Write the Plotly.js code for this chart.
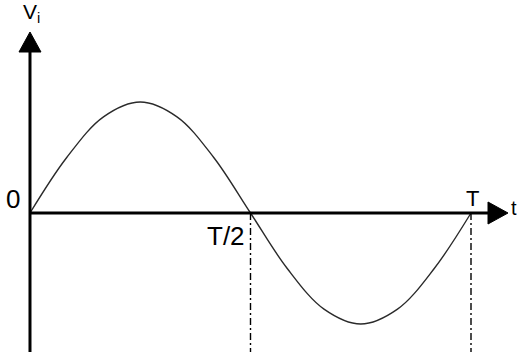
<!DOCTYPE html>
<html>
<head>
<meta charset="utf-8">
<script src="https://cdn.plot.ly/plotly-3.0.1.min.js"></script>
<style>html,body{margin:0;padding:0;background:#fff;}#chart{width:520px;height:362px;}</style>
</head>
<body>
<div id="chart"></div>
<script>
// Waveform (time as fraction of period T, amplitude normalised)
var tValues = [0, 1/12, 2/12, 3/12, 4/12, 5/12, 6/12, 7/12, 8/12, 9/12, 10/12, 11/12, 1];
var viValues = [0, 0.5, 0.866, 1, 0.866, 0.5, 0, -0.5, -0.866, -1, -0.866, -0.5, 0];
// Marked instants on the time axis
var markTimes = [0.5, 1];
var markLabels = ["T/2", "T"];
var originLabel = "0";
var xAxisLabel = "t";
var yAxisLabel = "V<sub>i</sub>";

// Axis extents (data units)
var xRange = [-0.0680, 1.1111];
var yRange = [-1.3423, 1.9189];
var xAxisEnd = 1.0839;
var yAxisTop = 1.6306;
var yAxisBottom = -1.252;

// pixel scale helpers for arrowhead geometry
var W = 520, H = 362;
var pxX = (xRange[1] - xRange[0]) / W;
var pxY = (yRange[1] - yRange[0]) / H;
var headLen = 20, headHalf = 11;

var traces = [];
// x-axis arrowhead
traces.push({
  x: [xAxisEnd - headLen * pxX, xAxisEnd, xAxisEnd - headLen * pxX, xAxisEnd - headLen * pxX],
  y: [headHalf * pxY, 0, -headHalf * pxY, headHalf * pxY],
  mode: "lines", fill: "toself", fillcolor: "#000", line: {color: "#000", width: 1},
  hoverinfo: "skip", showlegend: false
});
// y-axis arrowhead
traces.push({
  x: [-headHalf * pxX, 0, headHalf * pxX, -headHalf * pxX],
  y: [yAxisTop - headLen * pxY, yAxisTop, yAxisTop - headLen * pxY, yAxisTop - headLen * pxY],
  mode: "lines", fill: "toself", fillcolor: "#000", line: {color: "#000", width: 1},
  hoverinfo: "skip", showlegend: false
});
// the waveform
traces.push({
  x: tValues, y: viValues, mode: "lines",
  line: {color: "#2a2a2a", width: 1.4, shape: "spline", smoothing: 1},
  hoverinfo: "skip", showlegend: false
});

var shapes = [
  {type: "line", xref: "x", yref: "y", x0: 0, x1: 0, y0: yAxisBottom, y1: yAxisTop - headLen * pxY, line: {color: "#000", width: 3}},
  {type: "line", xref: "x", yref: "y", x0: 0, x1: xAxisEnd - headLen * pxX, y0: 0, y1: 0, line: {color: "#000", width: 3}}
];
markTimes.forEach(function (t) {
  shapes.push({type: "line", xref: "x", yref: "y", x0: t, x1: t, y0: 0, y1: yAxisBottom,
    line: {color: "#000", width: 1.4, dash: "7px,3px,2px,3px"}});
});

var fontBase = {family: "Liberation Sans, Arial, sans-serif", color: "#000"};
function f(size) { return Object.assign({}, fontBase, {size: size}); }

var annotations = [
  {x: 0, y: 0, xref: "x", yref: "y", text: originLabel, showarrow: false, xanchor: "right", yanchor: "bottom",
   xshift: -8, yshift: -3, font: f(26)},
  {x: markTimes[0], y: 0, xref: "x", yref: "y", text: markLabels[0], showarrow: false, xanchor: "right", yanchor: "top",
   xshift: -4, yshift: -6, font: f(26)},
  {x: markTimes[1], y: 0, xref: "x", yref: "y", text: markLabels[1], showarrow: false, xanchor: "center", yanchor: "bottom",
   xshift: 1, yshift: 0, font: f(22)},
  {x: xAxisEnd, y: 0, xref: "x", yref: "y", text: xAxisLabel, showarrow: false, xanchor: "left", yanchor: "bottom",
   xshift: 1, yshift: -8, font: f(20)},
  {x: 0, y: yAxisTop, xref: "x", yref: "y", text: yAxisLabel, showarrow: false, xanchor: "center", yanchor: "bottom",
   xshift: 2, yshift: 4, font: f(21)}
];

var layout = {
  width: W, height: H,
  margin: {l: 0, r: 0, t: 0, b: 0, pad: 0},
  paper_bgcolor: "#fff", plot_bgcolor: "#fff",
  xaxis: {range: xRange, visible: false, fixedrange: true},
  yaxis: {range: yRange, visible: false, fixedrange: true},
  shapes: shapes,
  annotations: annotations,
  showlegend: false
};

Plotly.newPlot("chart", traces, layout, {staticPlot: true, displayModeBar: false});
</script>
</body>
</html>
